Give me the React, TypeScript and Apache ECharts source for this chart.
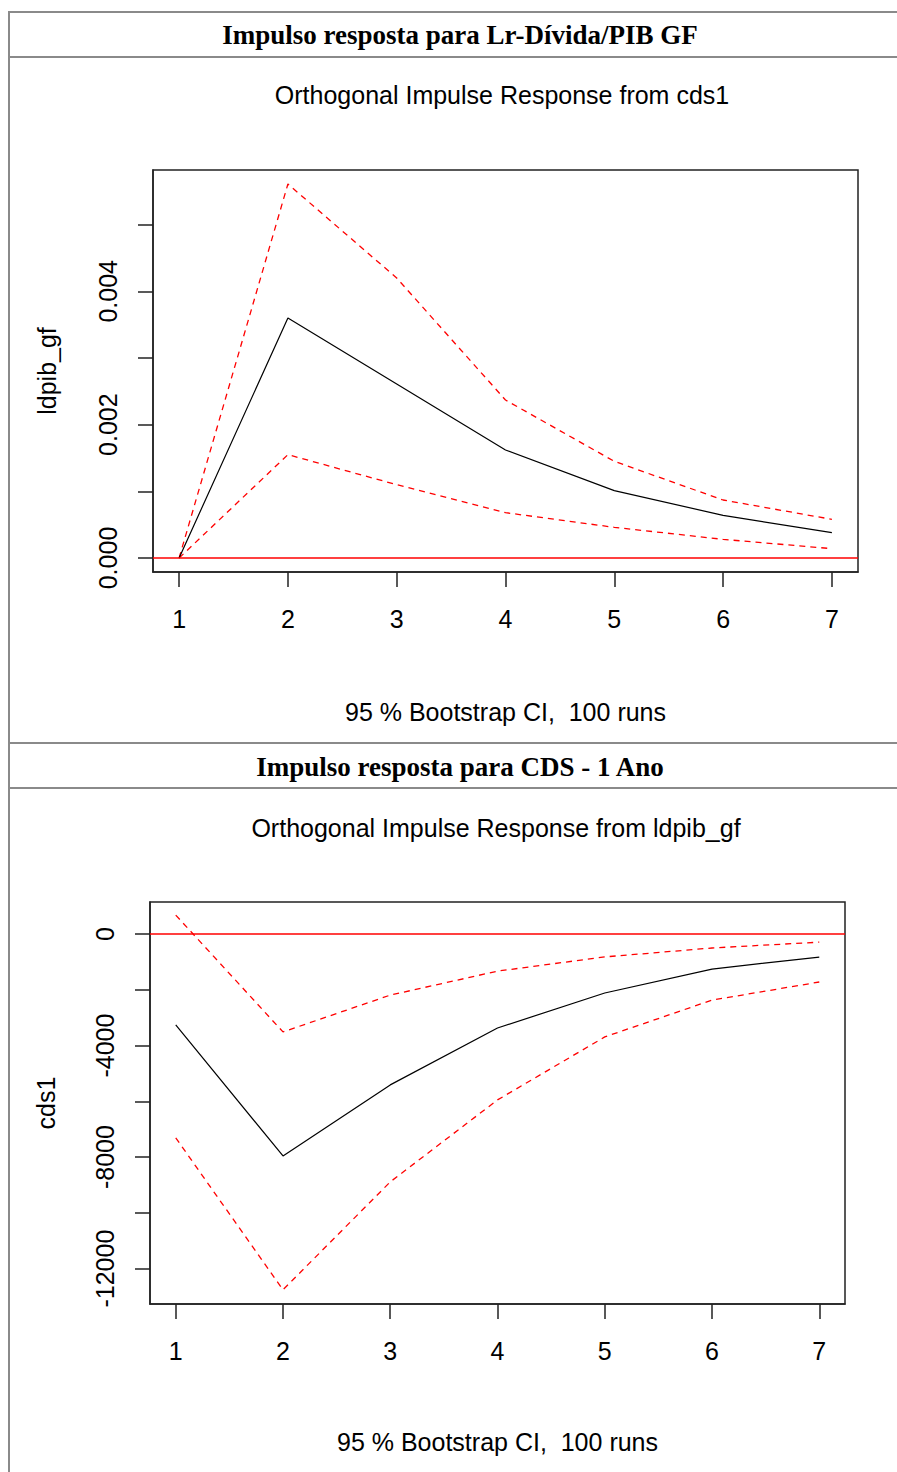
import React, { useEffect, useRef } from "react";
import * as echarts from "echarts";

// ---- Data ----
const steps = [1, 2, 3, 4, 5, 6, 7];

// Panel 1: Orthogonal Impulse Response from cds1 (response ldpib_gf)
const irf1 = [0, 0.0036, 0.00261, 0.00162, 0.00101, 0.00064, 0.00038];
const upper1 = [0, 0.00561, 0.0042, 0.00237, 0.00145, 0.00087, 0.00058];
const lower1 = [0, 0.00155, 0.0011, 0.00068, 0.00046, 0.00028, 0.00014];
const yTicks1 = [0, 0.001, 0.002, 0.003, 0.004, 0.005];
const yLabels1 = [0, 0.002, 0.004];

// Panel 2: Orthogonal Impulse Response from ldpib_gf (response cds1)
const irf2 = [-3260, -7960, -5410, -3370, -2115, -1255, -824];
const upper2 = [680, -3510, -2190, -1330, -820, -500, -290];
const lower2 = [-7310, -12760, -8890, -5950, -3690, -2370, -1720];
const yTicks2 = [-12000, -10000, -8000, -6000, -4000, -2000, 0];
const yLabels2 = [-12000, -8000, -4000, 0];

const header1 = "Impulso resposta para Lr-Dívida/PIB GF";
const header2 = "Impulso resposta para CDS - 1 Ano";
const title1 = "Orthogonal Impulse Response from cds1";
const title2 = "Orthogonal Impulse Response from ldpib_gf";
const xName = "95 % Bootstrap CI,  100 runs";

const SANS = "'Liberation Sans', Arial, sans-serif";
const SERIF = "'Liberation Serif', 'Times New Roman', serif";

const pairs = (ys: number[]) => steps.map((s, i) => [s, ys[i]]);

export default function App() {
  const ref = useRef<HTMLDivElement>(null);
  useEffect(() => {
    if (!ref.current) return;
    const chart = echarts.init(ref.current, null, { renderer: "svg" });

    const FS = 25;
    const axisTextStyle = { color: "#000", fontFamily: SANS, fontSize: FS };
    const tickStyle = { color: "#222", width: 1.5 };

    const mkX = (gridIndex: number, nameGap: number) => ({
      type: "value",
      gridIndex,
      min: 0.76,
      max: 7.24,
      splitLine: { show: false },
      axisLine: { show: true, onZero: false, lineStyle: tickStyle },
      axisTick: { show: true, length: 15, inside: false, lineStyle: tickStyle, customValues: steps },
      axisLabel: { ...axisTextStyle, margin: 34, customValues: steps, formatter: (v: number) => String(v) },
      name: xName,
      nameLocation: "middle",
      nameGap,
      nameTextStyle: axisTextStyle,
    });

    const mkY = (gridIndex: number, min: number, max: number, ticks: number[], labels: number[], name: string, nameGap: number, fmt: (v: number) => string) => ({
      type: "value",
      gridIndex,
      min,
      max,
      splitLine: { show: false },
      axisLine: { show: true, onZero: false, lineStyle: tickStyle },
      axisTick: { show: true, length: 15, inside: false, lineStyle: tickStyle, customValues: ticks },
      axisLabel: { ...axisTextStyle, rotate: 90, margin: 33, customValues: labels, formatter: fmt },
      name,
      nameLocation: "middle",
      nameGap,
      nameTextStyle: axisTextStyle,
    });

    const lineSeries = (xi: number, data: number[], color: string, dashed: boolean, zeroLine = false) => ({
      type: "line",
      xAxisIndex: xi,
      yAxisIndex: xi,
      data: pairs(data),
      showSymbol: false,
      symbol: "none",
      silent: true,
      lineStyle: { color, width: dashed ? 1.3 : 1.2, type: dashed ? [6, 5] : "solid" },
      markLine: zeroLine
        ? {
            silent: true,
            symbol: "none",
            label: { show: false },
            lineStyle: { color: "#ff0000", type: "solid", width: 1.6 },
            data: [{ yAxis: 0 }],
          }
        : undefined,
    });

    const gray = "#8a8a8a";
    const hline = (y: number) => ({
      type: "line",
      shape: { x1: 9, y1: y, x2: 897, y2: y },
      style: { stroke: gray, lineWidth: 2 },
    });
    const centerText = (text: string, x: number, y: number, font: string) => ({
      type: "text",
      x,
      y,
      style: { text, fill: "#000", font, textAlign: "center", textVerticalAlign: "middle" },
    });

    chart.setOption({
      animation: false,
      backgroundColor: "#fff",
      graphic: [
        hline(12),
        hline(57),
        hline(743),
        hline(788),
        { type: "line", shape: { x1: 9, y1: 11, x2: 9, y2: 1472 }, style: { stroke: gray, lineWidth: 2 } },
        centerText(header1, 460, 35, `bold 27px ${SERIF}`),
        centerText(header2, 460, 767, `bold 27px ${SERIF}`),
        centerText(title1, 502, 95, `${FS}px ${SANS}`),
        centerText(title2, 496, 828, `${FS}px ${SANS}`),
      ],
      grid: [
        { left: 153, top: 170, width: 705, height: 402, show: true, borderColor: "#222", borderWidth: 1.5, backgroundColor: "transparent" },
        { left: 150, top: 902, width: 695, height: 402, show: true, borderColor: "#222", borderWidth: 1.5, backgroundColor: "transparent" },
      ],
      xAxis: [mkX(0, 127), mkX(1, 125)],
      yAxis: [
        mkY(0, -0.00021, 0.00582, yTicks1, yLabels1, "ldpib_gf", 94, (v: number) => v.toFixed(3)),
        mkY(1, -13270, 1150, yTicks2, yLabels2, "cds1", 92, (v: number) => String(Math.round(v))),
      ],
      series: [
        lineSeries(0, upper1, "#ff0000", true, true),
        lineSeries(0, lower1, "#ff0000", true),
        lineSeries(0, irf1, "#000000", false),
        lineSeries(1, upper2, "#ff0000", true, true),
        lineSeries(1, lower2, "#ff0000", true),
        lineSeries(1, irf2, "#000000", false),
      ],
    });

    return () => chart.dispose();
  }, []);

  return (
    <div
      ref={ref}
      style={{ position: "absolute", left: 0, top: 0, width: 897, height: 1472, background: "#fff" }}
    />
  );
}
